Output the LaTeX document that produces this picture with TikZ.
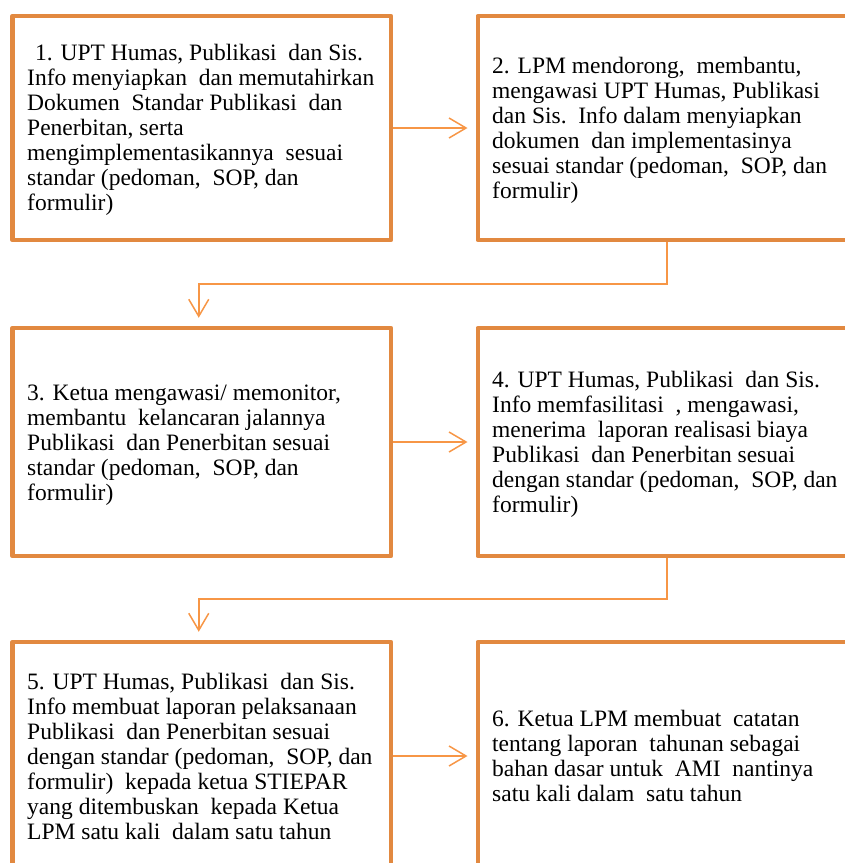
\documentclass[tikz,border=0pt]{standalone}
\usepackage{fontspec}
\setmainfont{Liberation Serif}
\usetikzlibrary{arrows.meta}
\definecolor{boxc}{RGB}{226,137,64}
\definecolor{arrc}{RGB}{247,150,70}
\begin{document}
\begin{tikzpicture}[x=1pt,y=-1pt,
  stepbox/.style={draw=boxc,line width=4.5pt,line join=round,minimum width=378.5pt,inner sep=0pt},
  txt/.style={anchor=base west,inner sep=0pt,font=\fontsize{23.5}{25}\selectfont},
  conn/.style={draw=arrc,line width=1.5pt,-{Straight Barb[length=17pt,width=20pt,line width=1.5pt]},shorten >=8pt}]
\useasboundingbox (0,0) rectangle (845,863);
\clip (0,0) rectangle (845,863);
% boxes
\node[stepbox,minimum height=224pt] (b1) at (201.75,128) {};
\node[stepbox,minimum height=224pt] (b2) at (667,128) {};
\node[stepbox,minimum height=228pt] (b3) at (201.75,442) {};
\node[stepbox,minimum height=228pt] (b4) at (667,442) {};
\node[stepbox,minimum height=228pt] (b5) at (201.75,756) {};
\node[stepbox,minimum height=228pt] (b6) at (667,756) {};
% texts
\node[txt] (t1) at (27,60) {\begin{tabular}[t]{@{}l@{}}
\hspace*{8pt}1. UPT Humas, Publikasi\ \ dan Sis.\\
Info menyiapkan\ \ dan memutahirkan\\
Dokumen\ \ Standar Publikasi\ \ dan\\
Penerbitan, serta\\
mengimplementasikannya\ \ sesuai\\
standar (pedoman,\ \ SOP, dan\\
formulir)\end{tabular}};
\node[txt] (t2) at (492,73) {\begin{tabular}[t]{@{}l@{}}
2. LPM mendorong,\ \ membantu,\\
mengawasi UPT Humas, Publikasi\\
dan Sis.\ \ Info dalam menyiapkan\\
dokumen\ \ dan implementasinya\\
sesuai standar (pedoman,\ \ SOP, dan\\
formulir)\end{tabular}};
\node[txt] (t3) at (27,400) {\begin{tabular}[t]{@{}l@{}}
3. Ketua mengawasi/ memonitor,\\
membantu\ \ kelancaran jalannya\\
Publikasi\ \ dan Penerbitan sesuai\\
standar (pedoman,\ \ SOP, dan\\
formulir)\end{tabular}};
\node[txt] (t4) at (492,387) {\begin{tabular}[t]{@{}l@{}}
4. UPT Humas, Publikasi\ \ dan Sis.\\
Info memfasilitasi\ \ , mengawasi,\\
menerima\ \ laporan realisasi biaya\\
Publikasi\ \ dan Penerbitan sesuai\\
dengan standar (pedoman,\ \ SOP, dan\\
formulir)\end{tabular}};
\node[txt] (t5) at (27,689) {\begin{tabular}[t]{@{}l@{}}
5. UPT Humas, Publikasi\ \ dan Sis.\\
Info membuat laporan pelaksanaan\\
Publikasi\ \ dan Penerbitan sesuai\\
dengan standar (pedoman,\ \ SOP, dan\\
formulir)\ \ kepada ketua STIEPAR\\
yang ditembuskan\ \ kepada Ketua\\
LPM satu kali\ \ dalam satu tahun\end{tabular}};
\node[txt] (t6) at (492,726) {\begin{tabular}[t]{@{}l@{}}
6. Ketua LPM membuat\ \ catatan\\
tentang laporan\ \ tahunan sebagai\\
bahan dasar untuk\ \ AMI\ \ nantinya\\
satu kali dalam\ \ satu tahun\end{tabular}};
% connectors
\draw[conn] (b1.east) -- (b2.west);
\draw[conn] (b3.east) -- (b4.west);
\draw[conn] (b5.east) -- (b6.west);
\coordinate (m23) at (667,284);
\coordinate (m45) at (667,599);
\draw[conn] (b2.south) -- (m23) -| ([xshift=-3pt]b3.north);
\draw[conn] (b4.south) -- (m45) -| ([xshift=-3pt]b5.north);
\end{tikzpicture}
\end{document}
